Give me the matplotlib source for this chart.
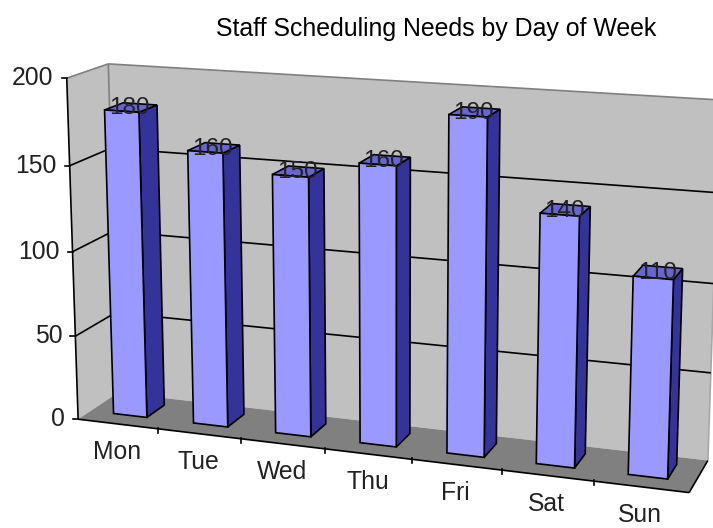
import matplotlib
matplotlib.use("Agg")
import matplotlib.pyplot as plt
import numpy as np
from matplotlib.patches import Polygon

plt.rcParams["font.family"] = ["Liberation Sans", "DejaVu Sans"]

days = ["Mon", "Tue", "Wed", "Thu", "Fri", "Sat", "Sun"]
staff_needed = [180, 160, 150, 160, 190, 140, 110]
value_ticks = [0, 50, 100, 150, 200]

WALL, FLOOR = "#C0C0C0", "#808080"
FRONT, SIDE, TOP = "#9999FF", "#333399", "#6666CC"
VMAX = 200

# box corners on the page -> fit one projective camera through them
corner_model = [(0, 0, 0), (1, 0, 0), (0, 1, 0), (0, 0, 1),
                (1, 0, 1), (0, 1, 1), (1, 1, 1)]
corner_page = [(78, 419), (689, 493), (67, 78), (118, 393),
               (708, 460), (108, 64), (720, 100)]

A, b = [], []
for (u, v, w), (px, py) in zip(corner_model, corner_page):
    A.append([u, v, w, 1, 0, 0, 0, 0, -px * u, -px * v, -px * w])
    A.append([0, 0, 0, 0, u, v, w, 1, -py * u, -py * v, -py * w])
    b += [px, py]
cam = np.append(np.linalg.lstsq(np.array(A, float), np.array(b, float), rcond=None)[0], 1).reshape(3, 4)


def project(cat, val, depth):
    """cat in category units, val in data units, depth 0 front .. 1 back"""
    p = cam @ np.array([cat / len(days), val / VMAX, depth, 1.0])
    return p[0] / p[2], p[1] / p[2]


fig = plt.figure(figsize=(7.13, 5.28), dpi=100)
ax = fig.add_axes([0, 0, 1, 1])
ax.set_xlim(0, 713)
ax.set_ylim(528, 0)
ax.axis("off")

n = len(days)


def face(pts, color, ec="black", lw=1.2, z=2):
    ax.add_patch(Polygon([project(*p) for p in pts], closed=True, fc=color, ec=ec, lw=lw,
                         joinstyle="miter", zorder=z))


def seg(a, b, color="black", lw=1.2, z=1.5):
    pa, pb = project(*a), project(*b)
    ax.plot([pa[0], pb[0]], [pa[1], pb[1]], color=color, lw=lw, zorder=z, solid_capstyle="butt")


# walls and floor
face([(0, 0, 0), (0, 0, 1), (0, VMAX, 1), (0, VMAX, 0)], WALL, ec="none", z=1)
face([(0, 0, 1), (n, 0, 1), (n, VMAX, 1), (0, VMAX, 1)], WALL, ec="none", z=1)
face([(0, 0, 0), (n, 0, 0), (n, 0, 1), (0, 0, 1)], FLOOR, ec="none", z=1.2)
seg((0, VMAX, 0), (0, VMAX, 1), FLOOR)
seg((0, VMAX, 1), (n, VMAX, 1), FLOOR)
seg((0, 0, 1), (0, VMAX, 1), FLOOR)
seg((n, 0, 1), (n, VMAX, 1), "#A8A8A8")

# gridlines
for t in value_ticks[1:-1]:
    seg((0, t, 0), (0, t, 1))
    seg((0, t, 1), (n, t, 1))

# axes and ticks
seg((0, 0, 0), (0, VMAX, 0), z=1.6)
seg((0, 0, 0), (n, 0, 0), z=1.6)
seg((n, 0, 0), (n, 0, 1), z=1.6)
for t in value_ticks:
    x, y = project(0, t, 0)
    ax.plot([x - 5, x], [y, y], color="black", lw=1.2, zorder=1.6)
    ax.text(x - 13, y, str(t), ha="right", va="center", fontsize=17.8, color="#222222")
for i in range(1, n):
    x, y = project(i, 0, 0)
    ax.plot([x, x], [y - 1, y + 4], color="black", lw=1.2, zorder=1.6)

# bars
bar_w = 0.42
d0, d1 = 0.31, 0.77
for i, (day, val) in enumerate(zip(days, staff_needed)):
    x0, x1 = i + 0.5 - bar_w / 2, i + 0.5 + bar_w / 2
    face([(x1, 0, d0), (x1, 0, d1), (x1, val, d1), (x1, val, d0)], SIDE)
    face([(x0, val, d0), (x1, val, d0), (x1, val, d1), (x0, val, d1)], TOP)
    face([(x0, 0, d0), (x1, 0, d0), (x1, val, d0), (x0, val, d0)], FRONT)
    # value label sits on the bar top
    lx, ly = project(i + 0.5, val, 0.5)
    ax.text(lx, ly, str(val), ha="center", va="center", fontsize=17.5, color="#222222", zorder=5)
    # category label below the floor edge
    cx, cy = project(i + 0.5, 0, 0)
    ax.text(cx - 1, cy + 28, day, ha="center", va="center", fontsize=17.8, color="#222222")

ax.text(436, 29, "Staff Scheduling Needs by Day of Week", ha="center", va="center",
        fontsize=17.95, color="black")

fig.savefig("out.png", dpi=100)
plt.close(fig)
